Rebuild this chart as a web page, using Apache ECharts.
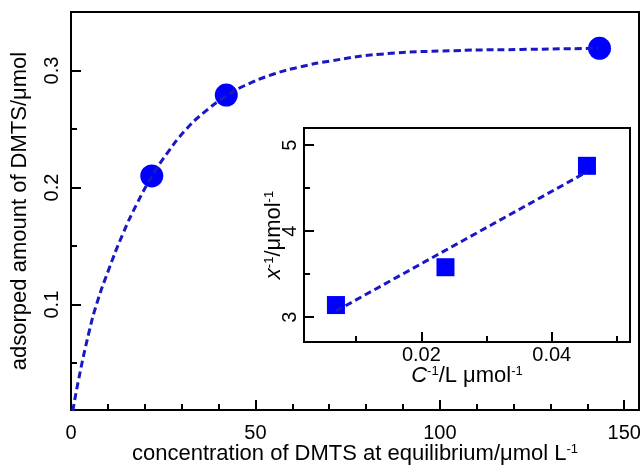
<!DOCTYPE html>
<html>
<head>
<meta charset="utf-8">
<script src="https://cdn.jsdelivr.net/npm/echarts@6/dist/echarts.min.js"></script>
<style>
html, body { margin: 0; padding: 0; background: #fff; }
#container { width: 643px; height: 471px; }
</style>
</head>
<body>
<div id="container"></div>
<script>
// main plot: isotherm
var concPoints = [21.9, 42.1, 143.3];
var adsorbedPoints = [0.210, 0.279, 0.319];
// dashed fit curve
var curveConc = [0, 2, 5, 7, 10, 14, 18, 22, 26, 31, 36, 42, 47, 55, 62, 70, 84, 104, 122, 143];
var curveAmount = [0, 0.035, 0.078, 0.101, 0.128, 0.160, 0.187, 0.210, 0.229, 0.249, 0.264, 0.278, 0.287, 0.297, 0.303, 0.308, 0.314, 0.317, 0.318, 0.319];
var mainXTicks = [0, 50, 100, 150];
var mainXMinor = [10, 20, 30, 40, 60, 70, 80, 90, 110, 120, 130, 140];
var mainYTicks = [0.1, 0.2, 0.3];
var mainYMinor = [0.05, 0.15, 0.25];

// inset: linearised plot
var invConc = [0.0069, 0.0237, 0.0454];
var invAmount = [3.14, 3.58, 4.76];
var fitInvConc = [0.0069, 0.0454];
var fitInvAmount = [3.07, 4.69];
var insetXTicks = [0.02, 0.04];
var insetXMinor = [0.01, 0.03, 0.05];
var insetYTicks = [3, 4, 5];
var insetYMinor = [3.5, 4.5];

var FONT = 'Liberation Sans';
var BLUE = '#0000ff';
var DASH = '#1818c4';

function pairs(a, b) {
	var out = [];
	for (var i = 0; i < a.length; i++) out.push([a[i], b[i]]);
	return out;
}

// n = normal text, sup = raised small text
var richStyles = {
	n: { fontFamily: FONT, fontSize: 22, color: '#000', lineHeight: 22, verticalAlign: 'bottom' },
	it: { fontFamily: FONT, fontSize: 22, fontStyle: 'italic', color: '#000', lineHeight: 22, verticalAlign: 'bottom' },
	sup: { fontFamily: FONT, fontSize: 13, color: '#000', lineHeight: 13, padding: [0, 0, 18, 0], verticalAlign: 'top' }
};

function majorAxis(grid, min, max, ticks, pos, extra) {
	var ax = {
		type: 'value', gridIndex: grid, min: min, max: max, position: pos,
		nameMoveOverlap: false,
		axisLine: { show: false },
		splitLine: { show: false },
		axisTick: { show: true, inside: true, length: 10, customValues: ticks, lineStyle: { color: '#000', width: 2 } },
		axisLabel: { show: true, customValues: ticks, color: '#000', fontFamily: FONT, fontSize: 20, margin: 10 },
		nameTextStyle: { color: '#000', fontFamily: FONT, fontSize: 22, rich: richStyles }
	};
	for (var k in extra) ax[k] = extra[k];
	return ax;
}

function minorAxis(grid, min, max, ticks, pos) {
	return {
		type: 'value', gridIndex: grid, min: min, max: max, position: pos,
		axisLine: { show: false },
		splitLine: { show: false },
		axisLabel: { show: false },
		axisTick: { show: true, inside: true, length: 6, customValues: ticks, lineStyle: { color: '#000', width: 2 } }
	};
}

var xMain = majorAxis(0, 0, 154, mainXTicks, 'bottom', {
	name: '{n|concentration of DMTS at equilibrium/μmol L}{sup|-1}', nameLocation: 'middle', nameGap: 33
});
xMain.axisLabel.margin = 13;

var yMain = majorAxis(0, 0.01, 0.35, mainYTicks, 'left', {
	name: 'adsorped amount of DMTS/μmol', nameLocation: 'middle', nameRotate: 90, nameGap: 40
});
yMain.axisLabel.rotate = 90;
yMain.axisLabel.margin = 9;

var yInset = majorAxis(1, 2.71, 5.2, insetYTicks, 'left', {
	name: '{it|x}{sup|-1}{n|/μmol}{sup|-1}', nameLocation: 'middle', nameRotate: 90, nameGap: 19
});
yInset.axisLabel.rotate = 90;
yInset.axisLabel.margin = 4;

var xInset = majorAxis(1, 0.002, 0.052, insetXTicks, 'bottom', {
	name: '{it|C}{sup|-1}{n|/L μmol}{sup|-1}', nameLocation: 'middle', nameGap: 23
});
xInset.axisLabel.margin = 3;

var option = {
	animation: false,
	backgroundColor: '#fff',
	grid: [
		{ left: 71, top: 12, right: 4, bottom: 61, outerBoundsMode: 'none', show: true, borderColor: '#000', borderWidth: 2, backgroundColor: '#fff' },
		{ left: 304, top: 128, right: 13, bottom: 129, outerBoundsMode: 'none', show: true, borderColor: '#000', borderWidth: 2, backgroundColor: '#fff' }
	],
	xAxis: [
		xMain,
		minorAxis(0, 0, 154, mainXMinor, 'bottom'),
		xInset,
		minorAxis(1, 0.002, 0.052, insetXMinor, 'bottom')
	],
	yAxis: [
		yMain,
		minorAxis(0, 0.01, 0.35, mainYMinor, 'left'),
		yInset,
		minorAxis(1, 2.71, 5.2, insetYMinor, 'left')
	],
	series: [
		{
			type: 'line', xAxisIndex: 0, yAxisIndex: 0,
			data: pairs(curveConc, curveAmount),
			smooth: true, showSymbol: false, symbol: 'none', clip: true,
			lineStyle: { color: DASH, width: 3, type: [7, 4] }
		},
		{
			type: 'scatter', xAxisIndex: 0, yAxisIndex: 0,
			data: pairs(concPoints, adsorbedPoints),
			symbol: 'circle', symbolSize: 23,
			itemStyle: { color: BLUE, opacity: 1 }
		},
		{
			type: 'line', xAxisIndex: 2, yAxisIndex: 2,
			data: pairs(fitInvConc, fitInvAmount),
			showSymbol: false, symbol: 'none',
			lineStyle: { color: DASH, width: 3, type: [7, 4] }
		},
		{
			type: 'scatter', xAxisIndex: 2, yAxisIndex: 2,
			data: pairs(invConc, invAmount),
			symbol: 'rect', symbolSize: 18,
			itemStyle: { color: BLUE, opacity: 1 }
		}
	]
};

var myChart = echarts.init(document.getElementById('container'));
myChart.setOption(option);
</script>
</body>
</html>
